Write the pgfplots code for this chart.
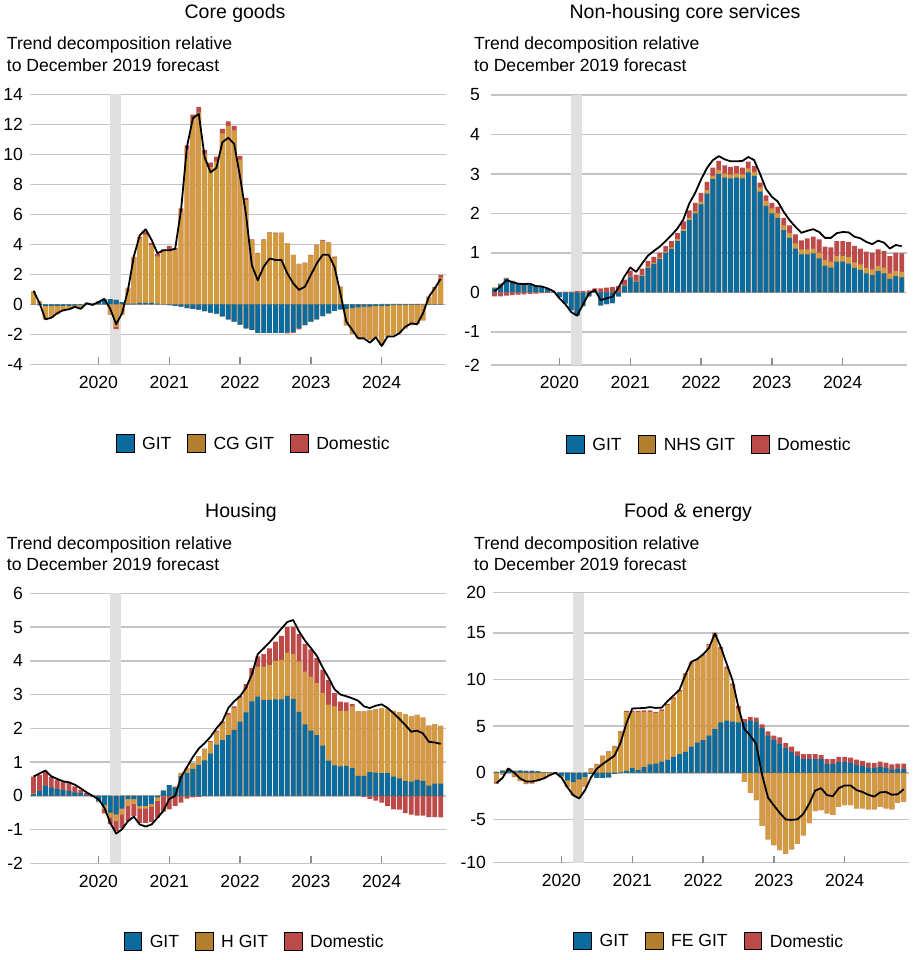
\documentclass[border=0pt]{standalone}
\usepackage{fontspec}
\setmainfont{Liberation Sans}
\usepackage{pgfplots}
\usepackage{pgfplotstable}
\pgfplotsset{compat=1.18}
\definecolor{gitc}{RGB}{10,108,158}
\definecolor{othc}{RGB}{211,155,63}
\definecolor{domc}{RGB}{188,74,72}
\definecolor{othleg}{RGB}{177,127,46}
\definecolor{gridc}{RGB}{196,196,196}
\definecolor{tickc}{RGB}{140,140,140}
\definecolor{shadec}{RGB}{224,224,224}
\newcommand{\fs}{\fontsize{17.6pt}{21pt}\selectfont}
\newcommand{\ft}{\fontsize{19.5pt}{23pt}\selectfont}

% Core goods: GIT, CG GIT, Domestic, total (line)
\pgfplotstableread{
m g o d l
-11 0 0.85 0 0.9
-10 -0.05 0.2 0 0.1
-9 -0.1 -0.9 0 -1.0
-8 -0.1 -0.8 0 -0.9
-7 -0.1 -0.55 0 -0.6
-6 -0.1 -0.35 0 -0.4
-5 -0.1 -0.25 0 -0.33
-4 -0.08 -0.1 0 -0.17
-3 -0.05 -0.25 0 -0.3
-2 0.05 0.05 0 0.07
-1 0.05 -0.05 0 -0.04
0 0.15 0.05 0 0.15
1 0.3 0.05 0 0.36
2 0.35 -0.7 0 -0.3
3 0.3 -1.5 -0.15 -1.33
4 0.15 -0.7 0 -0.6
5 0.05 1.05 0 0.95
6 0.05 3.1 0.02 3.2
7 0.1 4.3 0.1 4.6
8 0.1 4.55 0.2 5.0
9 0.1 3.85 0.15 4.3
10 0.05 3.15 0.15 3.4
11 0.02 3.55 0.1 3.6
12 -0.05 3.7 0.2 3.6
13 -0.1 3.65 0.1 3.7
14 -0.15 6.2 0.2 6.3
15 -0.25 10.35 0.25 10.5
16 -0.3 12.35 0.3 12.4
17 -0.35 12.8 0.35 12.7
18 -0.45 10.05 0.25 9.8
19 -0.55 9.15 0.3 8.8
20 -0.62 9.55 0.3 9.1
21 -0.8 11.4 0.3 10.8
22 -1.0 11.9 0.3 11.1
23 -1.15 11.6 0.3 10.7
24 -1.35 9.65 0.25 8.5
25 -1.6 6.95 0.15 6.0
26 -1.7 4.28 0.05 2.6
27 -1.9 3.4 0.03 1.6
28 -1.9 4.3 0.03 2.5
29 -1.9 4.75 0.05 3.05
30 -1.9 4.73 0.05 2.96
31 -1.9 4.75 0.03 2.96
32 -1.88 4.07 -0.05 2.07
33 -1.85 3.3 -0.05 1.4
34 -1.6 2.7 -0.07 0.96
35 -1.38 2.75 0.03 1.18
36 -1.15 3.27 0.03 1.96
37 -1.0 3.93 0.03 2.73
38 -0.78 4.25 0.05 3.3
39 -0.6 4.08 0.05 3.3
40 -0.44 3.11 0.07 2.5
41 -0.33 1.15 0.03 0.73
42 -0.3 -1.1 0 -1.15
43 -0.25 -1.7 0 -1.7
44 -0.2 -2.0 0 -2.27
45 -0.15 -2.1 0 -2.27
46 -0.15 -2.2 0 -2.56
47 -0.1 -2.1 0 -2.2
48 -0.1 -2.6 0.03 -2.78
49 -0.1 -2.05 0.03 -2.15
50 -0.05 -2.0 0.03 -2.15
51 -0.05 -1.85 0.03 -1.93
52 -0.05 -1.55 0.03 -1.5
53 -0.03 -1.35 0.03 -1.27
54 -0.03 -1.25 0.03 -1.33
55 -0.02 -1.05 0.03 -0.6
56 -0.02 0.5 0.02 0.5
57 -0.02 1.1 0.05 1.07
58 -0.02 1.8 0.15 1.7
}\dataA

% Non-housing core services: GIT, NHS GIT, Domestic, total
\pgfplotstableread{
m g o d l
-11 0.1 0.02 -0.1 0.03
-10 0.2 0.02 -0.1 0.15
-9 0.35 0.02 -0.08 0.31
-8 0.27 0.02 -0.07 0.26
-7 0.22 0.01 -0.06 0.22
-6 0.2 0.01 -0.05 0.21
-5 0.19 0.01 -0.04 0.22
-4 0.15 0.01 -0.03 0.16
-3 0.15 0 -0.02 0.15
-2 0.08 0 -0.01 0.1
-1 0.02 0 0 0.03
0 -0.12 0 0.01 -0.15
1 -0.28 0 0.02 -0.3
2 -0.45 0 0.02 -0.5
3 -0.58 0 0.03 -0.59
4 -0.35 0 0.04 -0.3
5 -0.1 0 0.05 -0.03
6 0.02 0 0.08 0.06
7 -0.33 0 0.1 -0.2
8 -0.3 0 0.12 -0.15
9 -0.27 0 0.13 -0.11
10 -0.1 0.01 0.15 0.12
11 0.17 0.02 0.13 0.4
12 0.38 0.02 0.15 0.63
13 0.27 0.02 0.16 0.52
14 0.42 0.02 0.16 0.73
15 0.62 0.03 0.15 0.93
16 0.72 0.03 0.15 1.05
17 0.85 0.03 0.13 1.16
18 1.0 0.03 0.14 1.3
19 1.1 0.04 0.16 1.45
20 1.3 0.05 0.15 1.62
21 1.55 0.05 0.2 1.85
22 1.83 0.06 0.19 2.25
23 2.0 0.05 0.22 2.52
24 2.23 0.07 0.22 2.86
25 2.5 0.09 0.21 3.15
26 2.87 0.08 0.21 3.35
27 3.0 0.1 0.23 3.45
28 2.91 0.1 0.21 3.37
29 2.89 0.09 0.2 3.32
30 2.91 0.1 0.19 3.32
31 2.89 0.1 0.17 3.33
32 3.04 0.1 0.17 3.43
33 2.95 0.1 0.15 3.35
34 2.55 0.11 0.12 3.0
35 2.19 0.13 0.14 2.62
36 2.0 0.13 0.14 2.42
37 1.89 0.11 0.17 2.3
38 1.58 0.12 0.19 2.04
39 1.38 0.13 0.19 1.83
40 1.11 0.13 0.23 1.66
41 0.96 0.13 0.23 1.51
42 0.96 0.13 0.28 1.56
43 0.99 0.12 0.3 1.6
44 0.86 0.15 0.33 1.53
45 0.68 0.14 0.34 1.38
46 0.63 0.15 0.36 1.38
47 0.78 0.14 0.38 1.5
48 0.78 0.14 0.38 1.53
49 0.73 0.16 0.39 1.52
50 0.62 0.14 0.42 1.41
51 0.57 0.14 0.4 1.37
52 0.48 0.14 0.41 1.28
53 0.44 0.14 0.42 1.22
54 0.54 0.13 0.42 1.31
55 0.48 0.15 0.42 1.26
56 0.34 0.14 0.44 1.11
57 0.41 0.13 0.46 1.2
58 0.38 0.14 0.47 1.17
}\dataB

% Housing: GIT, H GIT, Domestic, total
\pgfplotstableread{
m g o d l
-11 0.05 0.02 0.5 0.57
-10 0.15 0 0.47 0.66
-9 0.3 0 0.42 0.75
-8 0.25 0 0.3 0.58
-7 0.2 0 0.27 0.5
-6 0.18 0 0.24 0.43
-5 0.15 0 0.23 0.4
-4 0.1 0 0.18 0.33
-3 0.08 0 0.1 0.22
-2 0.02 0 0.06 0.1
-1 -0.02 0.02 0 0
0 -0.15 -0.02 -0.02 -0.1
1 -0.27 -0.13 -0.12 -0.35
2 -0.5 -0.15 -0.2 -0.8
3 -0.55 -0.2 -0.3 -1.12
4 -0.38 -0.18 -0.4 -0.99
5 -0.1 -0.2 -0.45 -0.75
6 -0.1 -0.15 -0.35 -0.62
7 -0.3 -0.08 -0.42 -0.85
8 -0.3 -0.08 -0.42 -0.91
9 -0.25 -0.07 -0.45 -0.85
10 -0.05 -0.1 -0.5 -0.65
11 0.15 -0.02 -0.45 -0.45
12 0.32 0 -0.4 -0.1
13 0.25 0.02 -0.3 0
14 0.58 0.1 -0.2 0.55
15 0.68 0.15 -0.08 0.85
16 0.8 0.17 -0.05 1.15
17 0.92 0.25 -0.03 1.4
18 1.05 0.33 0.02 1.56
19 1.25 0.35 0.02 1.75
20 1.52 0.38 0.03 2.0
21 1.65 0.5 0.05 2.2
22 1.8 0.6 0.05 2.6
23 1.95 0.65 0.05 2.8
24 2.2 0.7 0.05 2.95
25 2.47 0.72 0.12 3.2
26 2.8 0.8 0.18 3.6
27 2.94 0.89 0.3 4.2
28 2.84 0.99 0.37 4.37
29 2.84 1.04 0.49 4.55
30 2.86 1.14 0.57 4.75
31 2.86 1.17 0.71 4.95
32 2.96 1.28 0.76 5.15
33 2.87 1.33 0.81 5.21
34 2.49 1.49 0.81 4.87
35 2.12 1.56 0.82 4.6
36 1.93 1.6 0.81 4.38
37 1.8 1.54 0.74 4.15
38 1.49 1.55 0.69 3.8
39 1.04 1.66 0.73 3.5
40 0.9 1.75 0.39 3.16
41 0.87 1.65 0.27 3.0
42 0.89 1.63 0.25 2.95
43 0.82 1.83 0.07 2.89
44 0.59 1.91 0 2.82
45 0.59 1.91 -0.04 2.65
46 0.7 1.83 -0.09 2.6
47 0.69 1.88 -0.14 2.67
48 0.67 1.93 -0.2 2.71
49 0.67 1.9 -0.3 2.6
50 0.57 1.95 -0.4 2.45
51 0.52 1.95 -0.41 2.28
52 0.44 1.98 -0.51 2.1
53 0.42 1.93 -0.56 1.9
54 0.47 1.93 -0.59 1.93
55 0.44 1.88 -0.59 1.85
56 0.3 1.78 -0.63 1.6
57 0.36 1.76 -0.63 1.58
58 0.36 1.71 -0.64 1.54
}\dataC

% Food & energy: GIT, FE GIT, Domestic, total
\pgfplotstableread{
m g o d l
-11 0.1 -1.0 -0.15 -1.1
-10 0.25 -0.15 -0.05 -0.55
-9 0.3 0.1 0.05 0.46
-8 0.2 -0.4 -0.05 0.0
-7 0.25 -0.85 -0.05 -0.6
-6 0.2 -1.15 -0.05 -0.93
-5 0.2 -1.1 -0.05 -0.93
-4 0.15 -0.85 -0.05 -0.8
-3 0.05 -0.6 -0.03 -0.6
-2 0.02 -0.25 0 -0.25
-1 0 0.02 0 0
0 -0.3 -0.2 0 -0.5
1 -0.82 -0.7 0 -1.55
2 -1.0 -1.4 -0.05 -2.4
3 -0.7 -1.87 -0.1 -2.75
4 -0.43 -1.07 0 -1.86
5 -0.1 0.45 0.03 -0.5
6 -0.55 0.9 0.05 0.45
7 -0.55 1.8 0.05 0.95
8 -0.5 2.25 0.05 1.4
9 -0.1 2.85 0.05 1.85
10 0.05 4.3 0.1 3.2
11 0.2 6.3 0.15 5.3
12 0.5 6.0 0.15 6.9
13 0.3 6.2 0.15 6.93
14 0.6 5.95 0.15 6.95
15 0.9 5.65 0.15 7.05
16 1.0 5.4 0.15 6.96
17 1.2 5.45 0.15 7.0
18 1.4 5.85 0.15 7.7
19 1.7 6.25 0.15 8.3
20 2.0 6.75 0.15 8.9
21 2.25 8.3 0.13 10.5
22 2.8 8.9 0.15 11.9
23 3.25 8.85 0.1 12.2
24 3.5 9.1 0.1 12.7
25 4.0 9.7 0.1 13.4
26 4.7 10.2 0.1 14.95
27 5.4 7.9 0.18 13.5
28 5.6 5.6 0.18 11.7
29 5.5 3.9 0.18 9.9
30 5.4 1.5 0.28 7.0
31 5.4 -0.96 0.35 4.7
32 5.64 -2.14 0.36 4.0
33 5.46 -2.93 0.47 3.1
34 4.8 -5.7 0.4 -0.2
35 4.0 -7.14 0.46 -2.65
36 3.57 -7.75 0.43 -3.5
37 3.14 -8.3 0.66 -4.3
38 2.68 -8.7 0.52 -5.0
39 2.25 -8.2 0.55 -5.05
40 1.82 -7.6 0.48 -4.98
41 1.46 -6.7 0.54 -4.4
42 1.46 -5.4 0.54 -3.3
43 1.46 -4.1 0.54 -1.9
44 1.46 -4.0 0.44 -1.65
45 1.0 -4.36 0.46 -2.39
46 0.93 -4.5 0.53 -2.5
47 1.18 -3.64 0.52 -1.65
48 1.18 -3.46 0.52 -1.35
49 1.1 -3.46 0.54 -1.35
50 0.82 -3.8 0.61 -1.85
51 0.71 -3.8 0.58 -2.05
52 0.57 -3.93 0.53 -2.35
53 0.54 -3.93 0.53 -2.55
54 0.64 -3.64 0.56 -2.1
55 0.57 -3.8 0.53 -2.05
56 0.36 -3.93 0.54 -2.35
57 0.46 -3.2 0.54 -2.3
58 0.39 -3.1 0.61 -1.75
}\dataD

\pgfplotsset{
  panel/.style={
    scale only axis, width=416pt, height=270pt,
    xmin=-11.6, xmax=58.9,
    xtick={0,12,24,36,48}, xticklabels={2020,2021,2022,2023,2024},
    axis line style={draw=none},
    ymajorgrids, grid style={draw=gridc, line width=1.5pt},
    tick pos=left, tick align=inside, major tick length=7pt,
    xtick style={draw=tickc, line width=1.3pt},
    ytick style={draw=none},
    ticklabel style={font=\fs},
    xticklabel style={yshift=-8pt},
    yticklabel style={xshift=-3.5pt},
    /pgf/number format/assume math mode=true,
    legend columns=3,
    legend cell align=left,
    legend style={draw=none, fill=none, font=\fs, anchor=center,
      /tikz/every odd column/.append style={column sep=6pt},
      /tikz/every even column/.append style={column sep=14pt}},
    legend image code/.code={\fill[##1] (0pt,-8pt) rectangle (17.7pt,9.7pt);},
  },
  barsty/.style={ybar, bar width=0.82, bar shift=0pt, draw=none, forget plot},
}

\newcommand{\stackbars}[1]{%
  \addplot[barsty, fill=domc] table[x=m, y expr={max(\thisrow{g},0)+max(\thisrow{o},0)+max(\thisrow{d},0)}] {#1};
  \addplot[barsty, fill=othc] table[x=m, y expr={max(\thisrow{g},0)+max(\thisrow{o},0)}] {#1};
  \addplot[barsty, fill=gitc] table[x=m, y expr={max(\thisrow{g},0)}] {#1};
  \addplot[barsty, fill=domc] table[x=m, y expr={min(\thisrow{g},0)+min(\thisrow{o},0)+min(\thisrow{d},0)}] {#1};
  \addplot[barsty, fill=othc] table[x=m, y expr={min(\thisrow{g},0)+min(\thisrow{o},0)}] {#1};
  \addplot[barsty, fill=gitc] table[x=m, y expr={min(\thisrow{g},0)}] {#1};
  \addplot[black, line width=1.8pt, line join=round, forget plot] table[x=m, y=l] {#1};
}

\begin{document}
\begin{tikzpicture}
\path (0pt,0pt) rectangle (920pt,-960pt);

% ---------- Core goods ----------
\begin{axis}[panel, at={(30pt,-364.3pt)}, anchor=south west,
  ymin=-4, ymax=14, ytick={-4,-2,0,2,4,6,8,10,12,14},
  yticklabels={-4,-2,0,2,4,6,8,10,12,14},
  legend style={at={(0.538,-0.295)}}]
  \fill[shadec] (axis cs:1.9,-4) rectangle (axis cs:3.9,14);
  \stackbars{\dataA}
  \addlegendimage{fill=gitc}\addlegendentry{GIT}
  \addlegendimage{fill=othleg}\addlegendentry{CG GIT}
  \addlegendimage{fill=domc}\addlegendentry{Domestic}
\end{axis}

% ---------- Non-housing core services ----------
\begin{axis}[panel, at={(491pt,-365pt)}, anchor=south west,
  ymin=-1.84, ymax=5, ytick={-1.84,-1,0,1,2,3,4,5},
  yticklabels={-2,-1,0,1,2,3,4,5},
  yticklabel style={xshift=-4pt},
  legend style={at={(0.525,-0.295)}}]
  \fill[shadec] (axis cs:1.9,-1.84) rectangle (axis cs:3.9,5);
  \stackbars{\dataB}
  \addlegendimage{fill=gitc}\addlegendentry{GIT}
  \addlegendimage{fill=othleg}\addlegendentry{NHS GIT}
  \addlegendimage{fill=domc}\addlegendentry{Domestic}
\end{axis}

% ---------- Housing ----------
\begin{axis}[panel, at={(30pt,-863.3pt)}, anchor=south west,
  ymin=-2, ymax=6, ytick={-2,-1,0,1,2,3,4,5,6},
  yticklabels={-2,-1,0,1,2,3,4,5,6},
  legend style={at={(0.54,-0.29)}}]
  \fill[shadec] (axis cs:1.9,-2) rectangle (axis cs:3.9,6);
  \stackbars{\dataC}
  \addlegendimage{fill=gitc}\addlegendentry{GIT}
  \addlegendimage{fill=othleg}\addlegendentry{H GIT}
  \addlegendimage{fill=domc}\addlegendentry{Domestic}
\end{axis}

% ---------- Food & energy ----------
\begin{axis}[panel, at={(493pt,-862.7pt)}, anchor=south west,
  ymin=-9.64, ymax=19.32, ytick={-9.64,-5,0,5,10,15,19.32},
  yticklabels={-10,-5,0,5,10,15,20},
  yticklabel style={xshift=0pt},
  legend style={at={(0.52,-0.29)}}]
  \fill[shadec] (axis cs:1.9,-9.64) rectangle (axis cs:3.9,19.32);
  \stackbars{\dataD}
  \addlegendimage{fill=gitc}\addlegendentry{GIT}
  \addlegendimage{fill=othleg}\addlegendentry{FE GIT}
  \addlegendimage{fill=domc}\addlegendentry{Domestic}
\end{axis}

% ---------- titles and subtitles ----------
\node[font=\ft, anchor=base] at (235pt,-18.5pt) {Core goods};
\node[font=\fs, anchor=base west, inner sep=0pt] at (6.7pt,-50pt) {Trend decomposition relative};
\node[font=\fs, anchor=base west, inner sep=0pt] at (6.7pt,-71.7pt) {to December 2019 forecast};

\node[font=\ft, anchor=base] at (685pt,-18.5pt) {Non-housing core services};
\node[font=\fs, anchor=base west, inner sep=0pt] at (474pt,-50pt) {Trend decomposition relative};
\node[font=\fs, anchor=base west, inner sep=0pt] at (474pt,-71.7pt) {to December 2019 forecast};

\node[font=\ft, anchor=base] at (241pt,-517pt) {Housing};
\node[font=\fs, anchor=base west, inner sep=0pt] at (6.7pt,-549pt) {Trend decomposition relative};
\node[font=\fs, anchor=base west, inner sep=0pt] at (6.7pt,-570.7pt) {to December 2019 forecast};

\node[font=\ft, anchor=base] at (688pt,-517pt) {Food \& energy};
\node[font=\fs, anchor=base west, inner sep=0pt] at (474pt,-549pt) {Trend decomposition relative};
\node[font=\fs, anchor=base west, inner sep=0pt] at (474pt,-570.7pt) {to December 2019 forecast};

\pgfresetboundingbox
\path[use as bounding box] (0pt,0pt) rectangle (920pt,-960pt);
\end{tikzpicture}
\end{document}
